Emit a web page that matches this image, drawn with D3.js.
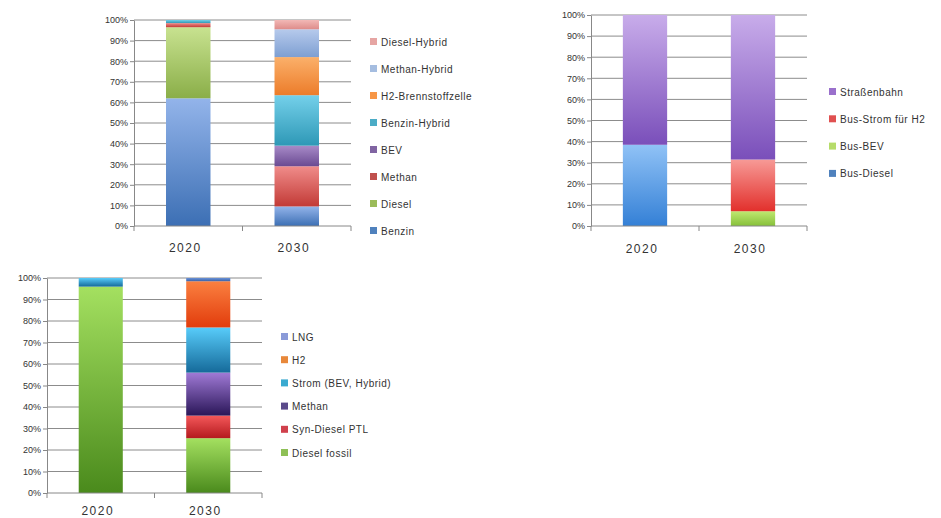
<!DOCTYPE html>
<html>
<head>
<meta charset="utf-8">
<script src="https://cdn.jsdelivr.net/npm/d3@7"></script>
<style>
  body { margin: 0; background: #fff; }
  svg text { font-family: "Liberation Sans", "DejaVu Sans", sans-serif; fill: #333; }
</style>
</head>
<body>
<div id="chart"></div>
<script>
// shared
const years = ['2020', '2030'];
const pctTicks = ['0%', '10%', '20%', '30%', '40%', '50%', '60%', '70%', '80%', '90%', '100%'];

// chart 1 - Pkw (bottom to top)
const pkwSeries = ['Benzin', 'Diesel', 'Methan', 'BEV', 'Benzin-Hybrid', 'H2-Brennstoffzelle', 'Methan-Hybrid', 'Diesel-Hybrid'];
const pkw2020 = [62, 34.5, 2, 0, 1.5, 0, 0, 0];
const pkw2030 = [9.5, 0, 19.5, 10, 24.5, 18.5, 13.5, 4.5];
const pkwColors = [['#93b4ea', '#3c6fb4'], ['#c8e290', '#8aae48'], ['#f08c8a', '#c23a36'], ['#a88bc8', '#6a4a92'],
  ['#74d0ea', '#2e98b6'], ['#fbb06a', '#ec7c2a'], ['#b6caec', '#7e9fd2'], ['#f2b8b6', '#de8c8a']];
const pkwLegendColors = ['#4f81bd', '#9bbb59', '#c0504d', '#8064a2', '#4bacc6', '#f79646', '#a5bde0', '#e6a5a3'];

// chart 2 - ÖPNV
const oepnvSeries = ['Bus-Diesel', 'Bus-BEV', 'Bus-Strom für H2', 'Straßenbahn'];
const oepnv2020 = [38.5, 0, 0, 61.5];
const oepnv2030 = [0, 7, 24.5, 68.5];
const oepnvColors = [['#90c2f6', '#3480d6'], ['#bfe870', '#86c03a'], ['#f79a96', '#e2302c'], ['#c8acea', '#7a4fba']];
const oepnvLegendColors = ['#4f81bd', '#b6dc6a', '#e05050', '#9a70cc'];

// chart 3 - Lkw
const lkwSeries = ['Diesel fossil', 'Syn-Diesel PTL', 'Methan', 'Strom (BEV, Hybrid)', 'H2', 'LNG'];
const lkw2020 = [96, 0, 0, 4, 0, 0];
const lkw2030 = [25.5, 10.5, 20, 21, 21.5, 1.5];
const lkwColors = [['#a4e060', '#4a8a1c'], ['#f4585a', '#b41a1e'], ['#a07ad6', '#2a1658'], ['#58ccfa', '#156a9a'],
  ['#fa8040', '#e23c0c'], ['#6a92d8', '#3a62a8']];
const lkwLegendColors = ['#8ec056', '#d0404c', '#5a4a8a', '#3aaad0', '#e8883a', '#8a9ad8'];

const svg = d3.select('#chart').append('svg').attr('width', 941).attr('height', 518);
const defs = svg.append('defs');
let gradId = 0;

function gradient(c) {
  const id = 'g' + (gradId++);
  const lg = defs.append('linearGradient').attr('id', id).attr('x1', 0).attr('y1', 0).attr('x2', 0).attr('y2', 1);
  lg.append('stop').attr('offset', '0%').attr('stop-color', c[0]);
  lg.append('stop').attr('offset', '100%').attr('stop-color', c[1]);
  return 'url(#' + id + ')';
}

function drawChart(cfg) {
  const g = svg.append('g');
  const x = d3.scaleBand().domain(years).range([cfg.left, cfg.right]).paddingInner(0.59).paddingOuter(0.295);
  const y = d3.scaleLinear().domain([0, 100]).range([cfg.bottom, cfg.top]);

  // gridlines
  g.selectAll('.grid').data(d3.range(10, 101, 10)).enter().append('line')
    .attr('x1', cfg.left).attr('x2', cfg.right)
    .attr('y1', d => y(d)).attr('y2', d => y(d))
    .attr('stroke', '#8c8c8c').attr('stroke-width', 1);

  // y axis
  const yAxis = g.append('g').attr('transform', 'translate(' + cfg.left + ',0)')
    .call(d3.axisLeft(y).tickValues(d3.range(0, 101, 10)).tickFormat((d, i) => pctTicks[i]).tickSize(4).tickSizeOuter(0));
  yAxis.select('.domain').attr('stroke', '#888');
  yAxis.selectAll('line').attr('stroke', '#888');
  yAxis.selectAll('text').style('font-size', '9px').attr('fill', '#333').attr('x', -6);

  // bars
  const rows = years.map((yr, i) => {
    const obj = { year: yr };
    cfg.series.forEach((s, j) => { obj[s] = cfg.values[i][j]; });
    return obj;
  });
  const stack = d3.stack().keys(cfg.series)(rows);
  const fills = cfg.colors.map(gradient);
  stack.forEach((layer, j) => {
    g.selectAll(null).data(layer.filter(d => d[1] - d[0] > 0)).enter().append('rect')
      .attr('x', d => x(d.data.year))
      .attr('width', x.bandwidth())
      .attr('y', d => y(d[1]))
      .attr('height', d => y(d[0]) - y(d[1]))
      .attr('fill', fills[j]);
  });

  // x axis
  const xAxis = g.append('g').attr('transform', 'translate(0,' + cfg.bottom + ')');
  xAxis.append('line').attr('x1', cfg.left).attr('x2', cfg.right).attr('stroke', '#888');
  [cfg.left, (cfg.left + cfg.right) / 2, cfg.right].forEach(t => {
    xAxis.append('line').attr('x1', t).attr('x2', t).attr('y1', 0).attr('y2', 5).attr('stroke', '#888');
  });
  xAxis.selectAll('.yr').data(years).enter().append('text')
    .attr('x', d => x(d) + x.bandwidth() / 2 - 3)
    .attr('y', cfg.yearDy)
    .attr('text-anchor', 'middle')
    .style('font-size', '12px')
    .style('letter-spacing', '1.5px')
    .text(d => d);

  // legend (top to bottom = reverse stack order)
  const leg = g.append('g');
  const order = cfg.series.map((s, i) => i).reverse();
  order.forEach((idx, k) => {
    const ly = cfg.legTop + k * cfg.legStep;
    leg.append('rect').attr('x', cfg.legX).attr('y', ly - 4).attr('width', 7).attr('height', 7)
      .attr('fill', cfg.legendColors[idx]);
    leg.append('text').attr('x', cfg.legX + 11).attr('y', ly + 3.5)
      .style('font-size', '10px').style('letter-spacing', '0.5px')
      .text(cfg.series[idx]);
  });
}

drawChart({
  left: 134, right: 351, top: 20, bottom: 226, yearDy: 26,
  series: pkwSeries, values: [pkw2020, pkw2030],
  colors: pkwColors, legendColors: pkwLegendColors,
  legX: 370, legTop: 42, legStep: 27
});

drawChart({
  left: 591, right: 807, top: 15, bottom: 226, yearDy: 27,
  series: oepnvSeries, values: [oepnv2020, oepnv2030],
  colors: oepnvColors, legendColors: oepnvLegendColors,
  legX: 829, legTop: 92, legStep: 27.3
});

drawChart({
  left: 47, right: 262, top: 278, bottom: 493, yearDy: 22,
  series: lkwSeries, values: [lkw2020, lkw2030],
  colors: lkwColors, legendColors: lkwLegendColors,
  legX: 281, legTop: 337, legStep: 23.2
});
</script>
</body>
</html>
